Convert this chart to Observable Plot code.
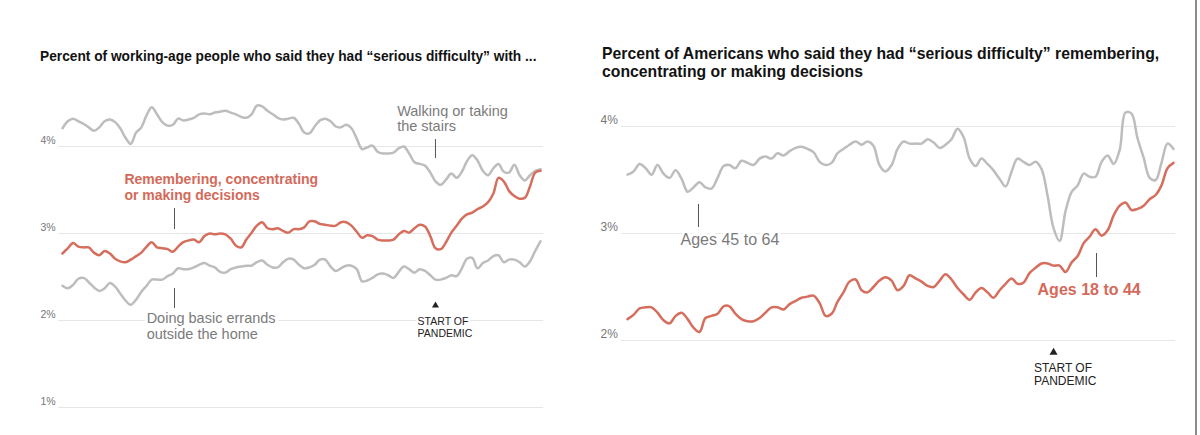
<!DOCTYPE html>
<html><head><meta charset="utf-8">
<script src="https://cdn.jsdelivr.net/npm/d3@7"></script>
<script src="https://cdn.jsdelivr.net/npm/@observablehq/plot@0.6"></script>
<style>
html,body{margin:0;padding:0;background:#fff;}
body{width:1200px;height:435px;position:relative;overflow:hidden;font-family:"Liberation Sans",Arial,sans-serif;}
.panel{position:absolute;top:0;height:435px;}
.title{position:absolute;font-family:"Liberation Sans",Arial,sans-serif;font-weight:700;color:#121212;white-space:nowrap;transform-origin:0 0;}
.chart{position:absolute;left:0;}
#edge{position:absolute;left:1195px;top:0;width:2px;height:435px;background:#8a8a8a;}
</style></head><body>
<div class="panel" style="left:0;width:560px">
  <div class="title" style="left:40px;top:46.5px;font-size:15px;line-height:17px;transform:scaleX(0.915)">Percent of working-age people who said they had “serious difficulty” with ...</div>
  <div class="chart" id="leftChart" style="top:70px;width:560px"></div>
</div>
<div class="panel" style="left:580px;width:620px">
  <div class="title" style="left:22px;top:45px;font-size:17px;line-height:17.5px;transform:scaleX(0.927)">Percent of Americans who said they had “serious difficulty” remembering,<br>concentrating or making decisions</div>
  <div class="chart" id="rightChart" style="top:85px;width:620px"></div>
</div>
<div id="edge"></div>
<script>
// ---- data (percent), every two months starting May 2008 ----
const walking = [4.21,4.29,4.32,4.29,4.26,4.22,4.18,4.22,4.29,4.31,
 4.28,4.21,4.10,4.03,4.16,4.22,4.36,4.45,4.37,4.28,
 4.24,4.25,4.32,4.30,4.31,4.33,4.37,4.38,4.37,4.39,
 4.40,4.41,4.39,4.37,4.34,4.33,4.37,4.47,4.46,4.41,
 4.37,4.33,4.31,4.32,4.33,4.26,4.16,4.15,4.23,4.30,
 4.32,4.29,4.23,4.22,4.25,4.21,4.09,3.97,3.99,4.01,
 3.94,3.92,3.92,3.93,3.98,4.00,3.92,3.82,3.80,3.78,
 3.70,3.60,3.56,3.62,3.69,3.64,3.71,3.83,3.90,3.84,
 3.72,3.67,3.75,3.80,3.71,3.70,3.79,3.67,3.61,3.67,
 3.72,3.74];
const remembering = [2.77,2.83,2.89,2.85,2.84,2.84,2.78,2.75,2.80,2.77,
 2.71,2.68,2.67,2.70,2.74,2.78,2.85,2.90,2.84,2.83,
 2.82,2.79,2.85,2.90,2.92,2.93,2.90,2.97,3.00,2.99,
 3.00,2.99,2.94,2.86,2.84,2.93,3.01,3.09,3.13,3.06,
 3.05,3.06,3.03,3.01,3.05,3.05,3.07,3.14,3.14,3.11,
 3.10,3.09,3.09,3.13,3.13,3.09,3.02,2.95,2.98,2.97,
 2.93,2.92,2.92,2.93,2.99,3.03,3.01,3.06,3.10,3.08,
 2.97,2.83,2.82,2.90,3.01,3.09,3.17,3.22,3.24,3.28,
 3.31,3.36,3.46,3.64,3.60,3.49,3.43,3.40,3.41,3.54,
 3.70,3.72];
const errands = [2.40,2.37,2.41,2.48,2.49,2.44,2.38,2.34,2.37,2.43,
 2.39,2.31,2.23,2.18,2.24,2.33,2.40,2.47,2.47,2.47,
 2.51,2.54,2.60,2.59,2.59,2.61,2.64,2.66,2.63,2.61,
 2.56,2.55,2.59,2.61,2.62,2.63,2.63,2.67,2.69,2.64,
 2.61,2.61,2.67,2.71,2.70,2.64,2.60,2.61,2.64,2.70,
 2.70,2.62,2.57,2.60,2.63,2.63,2.59,2.45,2.46,2.49,
 2.53,2.54,2.52,2.49,2.56,2.62,2.59,2.55,2.59,2.57,
 2.52,2.47,2.47,2.49,2.52,2.51,2.60,2.71,2.72,2.60,
 2.66,2.69,2.74,2.75,2.67,2.70,2.70,2.67,2.62,2.68,
 2.80,2.91];
const ages45to64 = [3.55,3.58,3.65,3.61,3.55,3.64,3.56,3.52,3.59,3.51,
 3.39,3.43,3.48,3.43,3.42,3.52,3.63,3.64,3.61,3.68,
 3.66,3.64,3.70,3.72,3.70,3.75,3.73,3.77,3.80,3.81,
 3.79,3.76,3.67,3.64,3.66,3.75,3.79,3.83,3.86,3.83,
 3.86,3.82,3.64,3.58,3.64,3.79,3.86,3.84,3.84,3.84,
 3.88,3.85,3.80,3.83,3.88,3.98,3.90,3.70,3.63,3.70,
 3.65,3.59,3.51,3.44,3.58,3.70,3.67,3.64,3.67,3.60,
 3.35,3.05,2.93,3.21,3.39,3.45,3.56,3.53,3.53,3.67,
 3.73,3.65,3.78,4.13,4.12,3.89,3.71,3.52,3.50,3.66,
 3.84,3.79];
const ages18to44 = [2.20,2.24,2.30,2.31,2.31,2.26,2.19,2.16,2.23,2.26,
 2.20,2.12,2.08,2.21,2.23,2.25,2.32,2.32,2.25,2.20,
 2.18,2.18,2.21,2.26,2.31,2.31,2.29,2.34,2.37,2.40,
 2.41,2.42,2.35,2.23,2.25,2.36,2.45,2.55,2.57,2.47,
 2.45,2.50,2.56,2.59,2.56,2.47,2.51,2.61,2.58,2.55,
 2.51,2.50,2.56,2.62,2.57,2.49,2.43,2.38,2.45,2.49,
 2.45,2.40,2.47,2.53,2.58,2.53,2.54,2.63,2.68,2.72,
 2.72,2.70,2.70,2.64,2.73,2.79,2.91,2.97,3.04,2.98,
 3.03,3.17,3.26,3.29,3.22,3.23,3.26,3.32,3.36,3.45,
 3.61,3.66];
const leftTicks = [1, 2, 3, 4];
const rightTicks = [2, 3, 4];
const pandemicDate = "2020-03-01";
const pandemicText = "START OF\nPANDEMIC";

// annotations (positions in data units)
const leftLabelsGray = [
  {date: "2018-12-13", value: 4.178, text: "Walking or taking\nthe stairs"},
  {date: "2011-01-01", value: 1.793, text: "Doing basic errands\noutside the home"}
];
const leftLabelsRed = [
  {date: "2010-04-19", value: 3.385, text: "Remembering, concentrating\nor making decisions"}
];
const leftLeaders = [
  {date: "2020-03-01", from: 4.080, to: 3.862},
  {date: "2011-11-20", from: 3.287, to: 3.046},
  {date: "2011-11-20", from: 2.368, to: 2.138}
];
const leftPandemic = {marker: 2.172, label: {date: "2019-08-07", value: 1.810}};

const rightLabelsGray = [{date: "2009-10-21", value: 2.893, text: "Ages 45 to 64"}];
const rightLabelsRed = [{date: "2019-09-21", value: 2.421, text: "Ages 18 to 44"}];
const rightLeaders = [
  {date: "2010-04-21", from: 3.271, to: 3.056},
  {date: "2021-05-11", from: 2.813, to: 2.589}
];
const rightPandemic = {marker: 1.888, label: {date: "2019-08-16", value: 1.584}};

// ---- build ----
const start = new Date(Date.UTC(2008, 4, 1));
const dates = walking.map((_, i) => d3.utcMonth.offset(start, 2 * i));
const D = s => new Date(s + "T00:00:00Z");
const leftTable = dates.map((d, i) => ({date: d, walking: walking[i], remembering: remembering[i], errands: errands[i]}));
const rightTable = dates.map((d, i) => ({date: d, older: ages45to64[i], younger: ages18to44[i]}));

const GRAY = "#bdbdbd", RED = "#d66e5d", TXT = "#7b7b7b", RED_TXT = "#d46a5a";
const FONT = "Liberation Sans, Arial, sans-serif";

function panel(o) {
  const {table, series, ticks, grayLabels, redLabels, leaders, pandemic} = o;
  return Plot.plot({
    width: o.width, height: o.height,
    marginLeft: o.ml, marginRight: o.mr, marginTop: o.mt, marginBottom: o.mb,
    insetLeft: o.il, insetRight: o.ir,
    style: {background: "transparent", overflow: "visible"},
    x: {type: "utc", domain: [dates[0], dates[dates.length - 1]], axis: null},
    y: {domain: o.ydomain, axis: null},
    marks: [
      Plot.ruleY(ticks, {stroke: "#e6e6e6", strokeWidth: 1}),
      Plot.text(ticks, {y: d => d, frameAnchor: "left", text: d => d + "%", textAnchor: "start", lineAnchor: "bottom",
        dx: o.labelDx, dy: -3, fill: "#777", fontSize: o.tickFont, fontFamily: FONT}),
      ...series.map(k => Plot.line(table, {x: "date", y: k.key, stroke: k.color, strokeWidth: 2.5, curve: "catmull-rom"})),
      Plot.ruleX(leaders, {x: d => D(d.date), y1: "from", y2: "to", stroke: "#555", strokeWidth: 1}),
      Plot.text(grayLabels, {x: d => D(d.date), y: "value", text: "text", textAnchor: "start", lineAnchor: "bottom",
        lineHeight: o.lh, fill: TXT, fontSize: o.labelFont, fontFamily: FONT, stroke: "white", strokeWidth: 6}),
      Plot.text(redLabels, {x: d => D(d.date), y: "value", text: "text", textAnchor: "start", lineAnchor: "bottom",
        lineHeight: o.rlh, fill: RED_TXT, fontWeight: "bold", fontSize: o.redFont, fontFamily: FONT, stroke: "white", strokeWidth: 5}),
      Plot.dot([pandemic], {x: () => D(pandemicDate), y: "marker", symbol: "triangle", r: o.triR, fill: "#222"}),
      Plot.text([pandemic.label], {x: d => D(d.date), y: "value", text: () => pandemicText, textAnchor: "start", lineAnchor: "bottom",
        lineHeight: o.plh, fill: "#222", fontSize: o.pFont, fontFamily: FONT, stroke: "white", strokeWidth: 5})
    ]
  });
}

document.getElementById("leftChart").append(panel({
  table: leftTable,
  series: [{key: "walking", color: GRAY}, {key: "errands", color: GRAY}, {key: "remembering", color: RED}],
  ticks: leftTicks, grayLabels: leftLabelsGray, redLabels: leftLabelsRed, leaders: leftLeaders, pandemic: leftPandemic,
  width: 560, height: 365, ml: 58, mr: 17, mt: 76, mb: 28, il: 4, ir: 3, ydomain: [1, 4],
  labelDx: -18, tickFont: 10.5, labelFont: 14.5, lh: 1.07, redFont: 14, rlh: 1.14, triR: 2.6, pFont: 10.5, plh: 1.14
}));
document.getElementById("rightChart").append(panel({
  table: rightTable,
  series: [{key: "older", color: GRAY}, {key: "younger", color: RED}],
  ticks: rightTicks, grayLabels: rightLabelsGray, redLabels: rightLabelsRed, leaders: rightLeaders, pandemic: rightPandemic,
  width: 620, height: 350, ml: 41, mr: 25, mt: 41, mb: 95, il: 6, ir: 2, ydomain: [2, 4],
  labelDx: -21, tickFont: 12, labelFont: 16, lh: 1.1, redFont: 16, rlh: 1.1, triR: 3, pFont: 12, plh: 1.125
}));
</script>
</body></html>
